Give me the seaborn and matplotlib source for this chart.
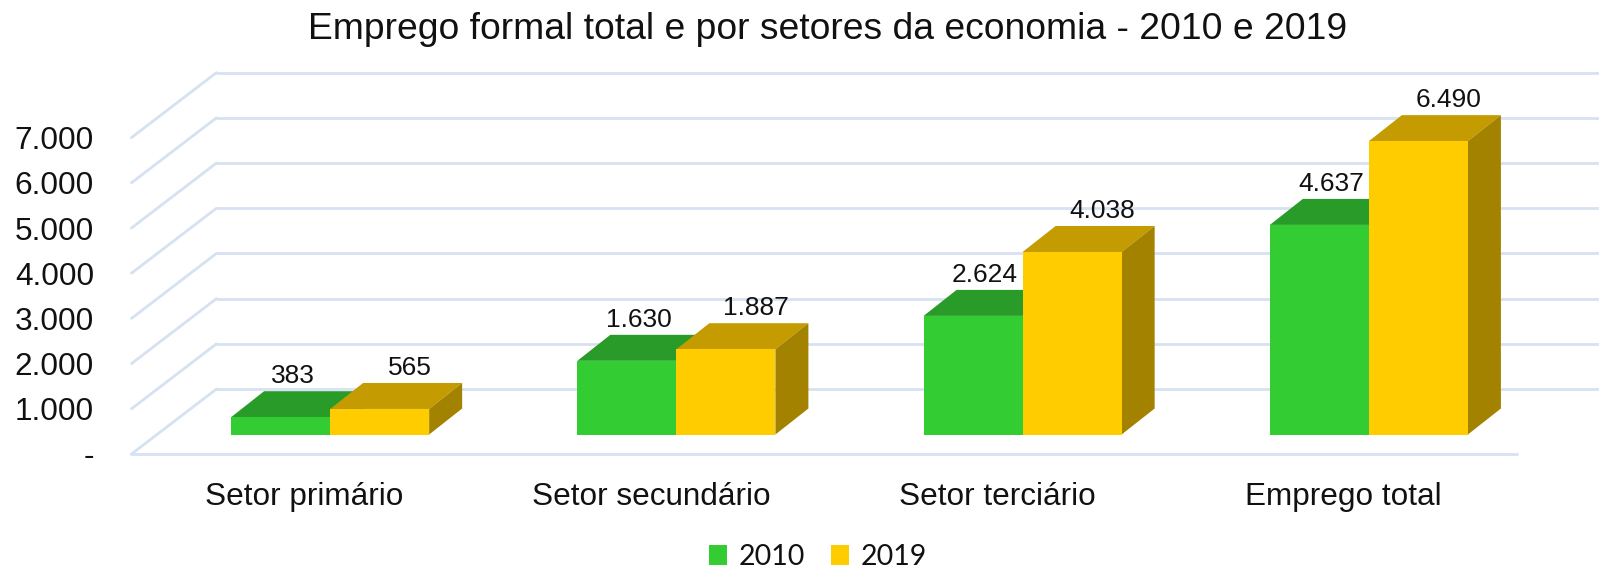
import numpy as np
import pandas as pd
import seaborn as sns
from matplotlib import pyplot as plt
from matplotlib.patches import Polygon
from matplotlib.transforms import ScaledTranslation

sns.set_style("white")
plt.rcParams['font.family'] = ['Liberation Sans', 'DejaVu Sans']

sectors = ["Setor primário", "Setor secundário", "Setor terciário", "Emprego total"]
years = ["2010", "2019"]
emp_2010 = [383, 1630, 2624, 4637]
emp_2019 = [565, 1887, 4038, 6490]
y_ticks = [0, 1000, 2000, 3000, 4000, 5000, 6000, 7000]
y_tick_labels = ["-", "1.000", "2.000", "3.000", "4.000", "5.000", "6.000", "7.000"]

front_colors = ["#33CC33", "#FFCC00"]
top_colors = ["#299B29", "#C49B00"]
side_colors = ["#1F7A1F", "#A38200"]
grid_color = "#D6E1F2"
text_color = "#111111"

df = pd.DataFrame({
    "setor": sectors * 2,
    "ano": [years[0]] * 4 + [years[1]] * 4,
    "empregos": emp_2010 + emp_2019,
})

W, H, DPI = 1599, 569, 100
fig = plt.figure(figsize=(W / DPI, H / DPI), dpi=DPI)
ax = fig.add_axes([157 / W, (H - 434.5) / H, 1385 / W, 316.4 / H])

sns.barplot(data=df, x="setor", y="empregos", hue="ano", palette=front_colors,
            saturation=1, width=0.572, linewidth=0, ax=ax, zorder=3)
ax.set_xlim(-0.5, 3.5)
ax.set_ylim(0, 7000)
for s in ax.spines.values():
    s.set_visible(False)
ax.set_xlabel("")
ax.set_ylabel("")

# pixel -> data conversions for the fake 3d depth
sx = ax.bbox.width / 4.0
sy = ax.bbox.height / 7000.0
bar_dx, bar_dy = 33 / sx, 26 / sy          # depth of each bar
back_dx, back_dy = 59.5 / sx, 45.5 / sy    # bar plane -> back wall
front_dx, front_dy = -25.5 / sx, -19.5 / sy  # bar plane -> front edge

# back wall + oblique floor/side lines
for v in y_ticks:
    ax.plot([-0.5 + back_dx, 3.5 + back_dx], [v + back_dy] * 2, color=grid_color,
            lw=2, clip_on=False, zorder=0)
    ax.plot([-0.5 + front_dx, -0.5 + back_dx], [v + front_dy, v + back_dy],
            color=grid_color, lw=2, clip_on=False, zorder=0)
ax.plot([-0.5 + front_dx, 3.5 + front_dx], [front_dy, front_dy], color=grid_color,
        lw=2, clip_on=False, zorder=0)

# top and side faces + value labels
label_dx = [12 / sx, 30 / sx]
for h_i, cont in enumerate(ax.containers):
    for bar in cont:
        x0 = bar.get_x()
        x1 = x0 + bar.get_width()
        h = bar.get_height()
        bar.set_zorder(3 + 2 * h_i)
        top = [(x0, h), (x1, h), (x1 + bar_dx, h + bar_dy), (x0 + bar_dx, h + bar_dy)]
        side = [(x1, 0), (x1, h), (x1 + bar_dx, h + bar_dy), (x1 + bar_dx, bar_dy)]
        ax.add_patch(Polygon(top, closed=True, fc=top_colors[h_i], ec="none",
                             zorder=2 + 2 * h_i, clip_on=False))
        ax.add_patch(Polygon(side, closed=True, fc=side_colors[h_i], ec="none",
                             zorder=2 + 2 * h_i, clip_on=False))
        ax.text((x0 + x1) / 2 + label_dx[h_i], h + bar_dy + 8 / sy,
                f"{int(h):,}".replace(",", "."), ha="center", va="baseline",
                fontsize=19, color=text_color, zorder=10, clip_on=False)

ax.set_yticks(y_ticks)
ax.set_yticklabels(y_tick_labels)
ax.tick_params(axis="y", length=0, pad=27, labelsize=22.7, labelcolor=text_color)
ax.tick_params(axis="x", length=0, pad=20, labelsize=22.7, labelcolor=text_color)
yoff = ScaledTranslation(-25.5 / DPI, -19.5 / DPI, fig.dpi_scale_trans)
xoff = ScaledTranslation(-25.5 / DPI, -19.5 / DPI, fig.dpi_scale_trans)
for lab in ax.get_yticklabels():
    lab.set_transform(lab.get_transform() + yoff)
for lab in ax.get_xticklabels():
    lab.set_transform(lab.get_transform() + xoff)

handles, labels = ax.get_legend_handles_labels()
if ax.get_legend() is not None:
    ax.get_legend().remove()
fig.legend(handles, labels, loc="center", bbox_to_anchor=(818 / W, 1 - 557 / H),
           ncol=2, frameon=False, prop={"family": "Lato", "size": 20.5},
           handlelength=0.65, handleheight=0.65, handletextpad=0.4,
           columnspacing=0.9, borderaxespad=0, labelcolor=text_color)

fig.text(828 / W, 1 - 39 / H, "Emprego formal total e por setores da economia - 2010 e 2019",
         ha="center", va="baseline", fontsize=26.8, color=text_color)

fig.savefig("out.png", dpi=DPI)
